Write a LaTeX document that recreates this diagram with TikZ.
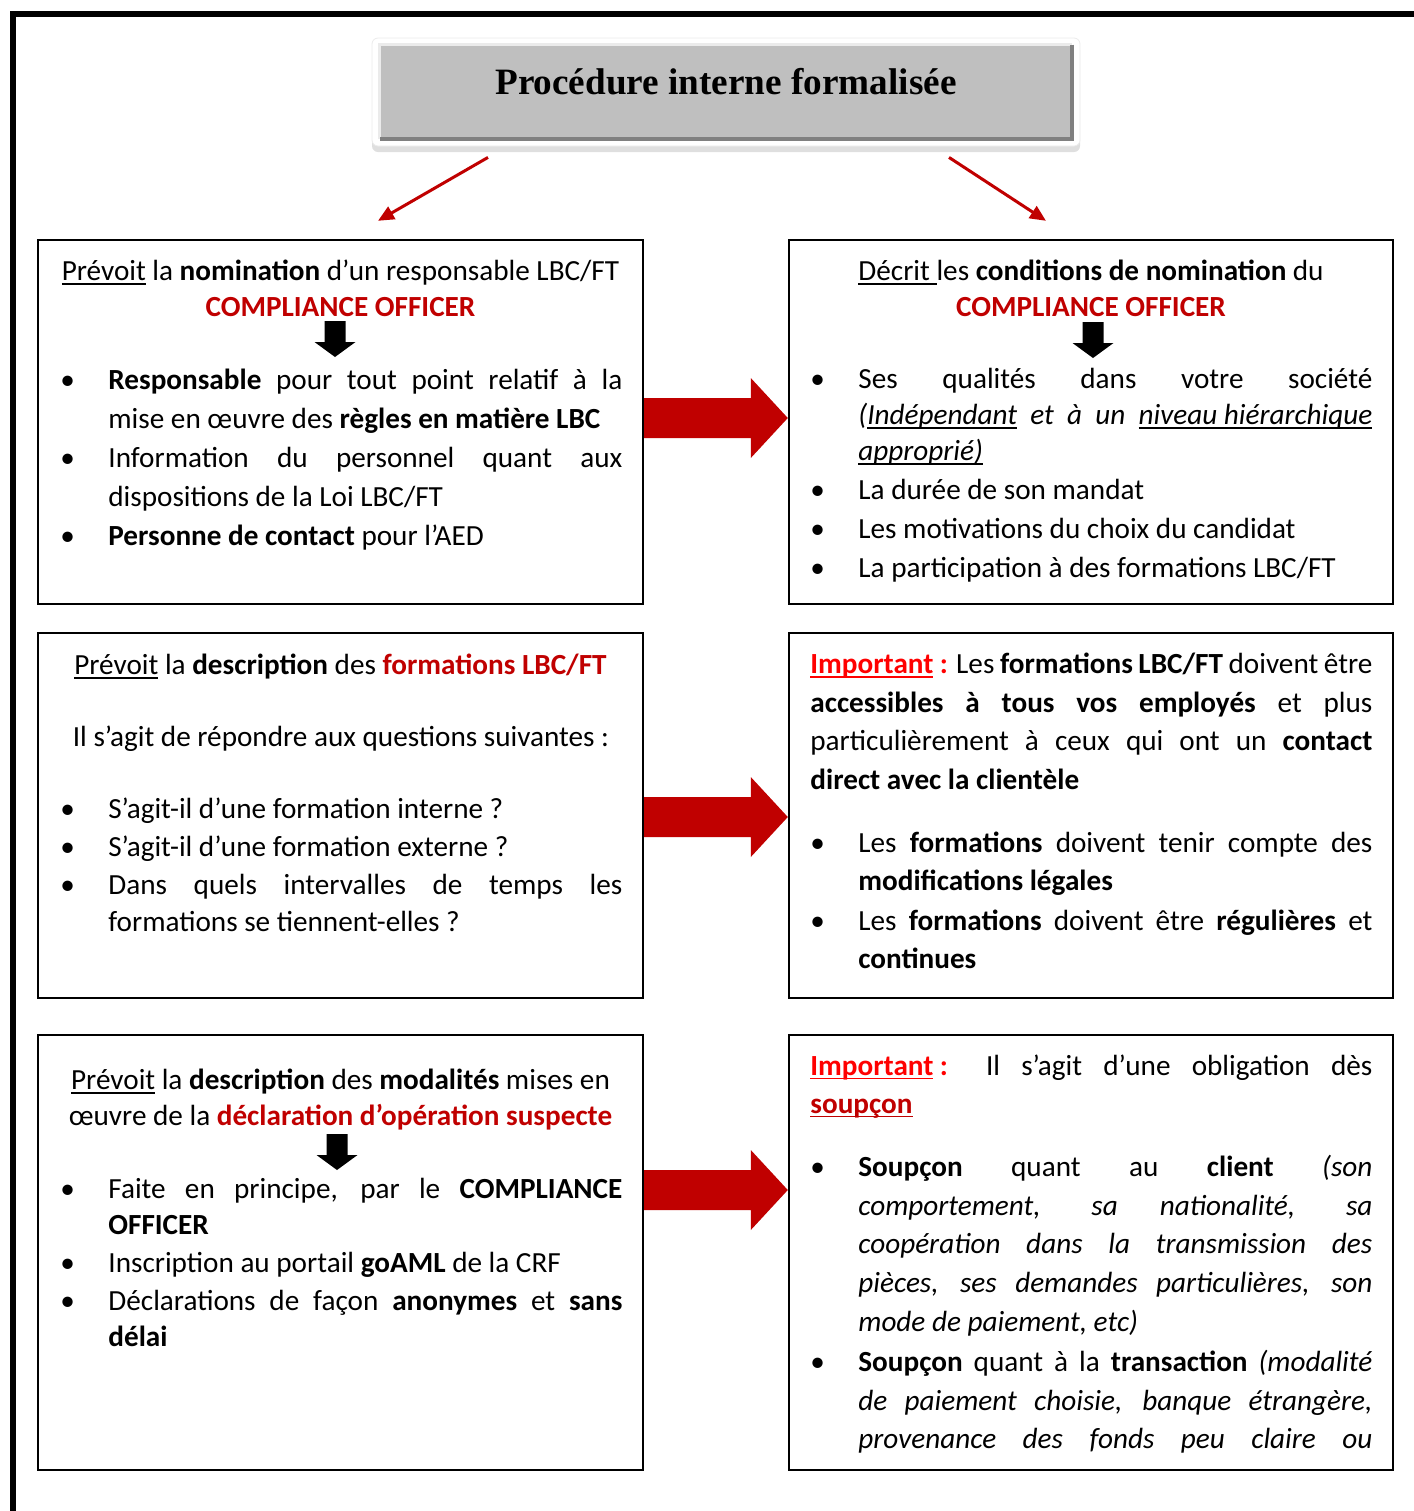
\documentclass[tikz,border=0pt]{standalone}
\usepackage{fontspec}
\setmainfont{Carlito}
\newfontfamily\titrefont{Liberation Serif}
\usepackage{xcolor}
\usetikzlibrary{positioning, calc, fit, shadows, arrows.meta}

\hyphenpenalty=10000
\exhyphenpenalty=10000
\tolerance=10000
\setlength{\parindent}{0pt}

% soulignement a profondeur fixe
\newcommand{\souligne}[1]{\setbox0\hbox{#1}\rlap{\rule[-2.2pt]{\wd0}{0.8pt}}\box0\relax}

% liste a puces
\newenvironment{puces}[1][0pt]{%
  \begin{list}{\textbullet}{%
    \setlength{\leftmargin}{24pt}%
    \setlength{\labelwidth}{24pt}%
    \setlength{\labelsep}{0pt}%
    \setlength{\topsep}{0pt}\setlength{\partopsep}{0pt}%
    \setlength{\parsep}{0pt}\setlength{\itemsep}{#1}%
    \renewcommand{\makelabel}[1]{##1\hfil}}}%
  {\end{list}}

\newcommand{\grossefleche}[3]{
    \fill[rougefonce] ($(#1.east)+(0,#3-20)$) -- ($(#2.west)+(-37,#3-20)$) -- ($(#2.west)+(-37,#3-40)$)
        -- ($(#2.west)+(0,#3)$) -- ($(#2.west)+(-37,#3+40)$) -- ($(#2.west)+(-37,#3+20)$) -- ($(#1.east)+(0,#3+20)$) -- cycle;
}
\newcommand{\flechenoire}[2]{
    \fill (#1-10.5,#2) -- (#1+10.5,#2) -- (#1+10.5,#2+21) -- (#1+20.5,#2+21) -- (#1,#2+36) -- (#1-20.5,#2+21) -- (#1-10.5,#2+21) -- cycle;
}

\tikzset{
    cadre/.style={
        draw, line width=1.2pt, inner sep=0pt
    },
    entete/.style={
        anchor=north, align=justify, text width=281pt, inner sep=0pt, execute at begin node=\centering
    },
    corps/.style={
        anchor=north west, align=justify, text width=281pt, inner sep=0pt
    },
    texte/.style={
        font=\fontsize{14.6pt}{#1}\selectfont
    },
    flecherouge/.style={
        -{Triangle[length=8pt,width=7pt]}, line width=1.5pt, rougefonce
    }
}

\begin{document}
\begin{tikzpicture}[x=0.5pt, y=-0.5pt]
    % --- COULEURS ---
    \definecolor{rougefonce}{RGB}{192, 0, 0}
    \definecolor{rougevif}{RGB}{255, 0, 0}

    \useasboundingbox (0,0) rectangle (1414,1511);
    \draw[line width=3pt] (13,1511) -- (13,14) -- (1414,14);

    % --- TITRE ---
    \node[fit={(372,38) (1080,146)}, inner sep=0pt, fill=white, draw=black!8, rounded corners=3pt,
          drop shadow={opacity=0.25, shadow xshift=0pt, shadow yshift=-3pt}] (cadre) {};
    \node[fit={(380,45) (1072,139)}, inner sep=0pt, fill=black!25] (titre) {};
    \draw[black!8, line width=1.5pt] (titre.south west) -- (titre.north west) -- (titre.north east);
    \draw[black!50, line width=2pt] (titre.north east) -- (titre.south east) -- (titre.south west);
    \node[font=\titrefont\bfseries\fontsize{18.6pt}{22pt}\selectfont] (titretexte) at (726,82) {Procédure interne formalisée};

    % --- CADRES ---
    \node[cadre, fit={(38,240) (643,604)}] (L1) {};
    \node[cadre, fit={(789,240) (1393,604)}] (R1) {};
    \node[cadre, fit={(38,633) (643,998)}] (L2) {};
    \node[cadre, fit={(789,633) (1393,998)}] (R2) {};
    \node[cadre, fit={(38,1035) (643,1470)}] (L3) {};
    \node[cadre, fit={(789,1035) (1393,1470)}] (R3) {};

    % fleches du titre
    \coordinate (dL) at ($(cadre.south)+(-238,11)$);
    \coordinate (dR) at ($(cadre.south)+(223,11)$);
    \draw[flecherouge] (dL) -- ($(L1.north)+(37.5,-18)$);
    \draw[flecherouge] (dR) -- ($(R1.north)+(-45,-18)$);

    % grosses fleches
    \grossefleche{L1}{R1}{-4}
    \grossefleche{L2}{R2}{1.5}
    \grossefleche{L3}{R3}{-62.5}

    % --- LIGNE 1 ---
    \node[entete, texte=18pt] (L1titre) at (340.5,255) {\strut\souligne{Prévoit} la \textbf{nomination} d’un responsable LBC/FT\\
        \textcolor{rougefonce}{\textbf{COMPLIANCE OFFICER}}};
    \flechenoire{335}{321}
    \node[corps, texte=19.5pt] (L1liste) at (60,350) {\begin{puces}
        \item\strut \textbf{Responsable} pour tout point relatif à la\linebreak mise en œuvre des \textbf{règles en matière LBC}
        \item Information du personnel quant aux\linebreak dispositions de la Loi LBC/FT
        \item \textbf{Personne de contact} pour l’AED
    \end{puces}};

    \node[entete, texte=18pt] (R1titre) at (1091,255) {\strut\souligne{Décrit\ }les \textbf{conditions de nomination} du\\
        \textcolor{rougefonce}{\textbf{COMPLIANCE OFFICER}}};
    \flechenoire{1093}{322}
    \node[corps, texte=18pt] (R1liste) at (810,352) {\begin{puces}[1.5pt]
        \item\strut Ses qualités dans votre société\linebreak \textit{(\souligne{Indépendant} et à un \souligne{niveau hiérarchique}}\linebreak \textit{\souligne{approprié)}}
        \item La durée de son mandat
        \item Les motivations du choix du candidat
        \item La participation à des formations LBC/FT
    \end{puces}};

    % --- LIGNE 2 ---
    \node[entete, texte=18pt] (L2titre) at (340.5,649) {\strut\souligne{Prévoit} la \textbf{description} des \textcolor{rougefonce}{\textbf{formations LBC/FT}}};
    \node[entete, texte=18pt] (L2question) at (341,721) {\strut Il s’agit de répondre aux questions suivantes :};
    \node[corps, texte=18.5pt] (L2liste) at (60,781) {\begin{puces}[0.5pt]
        \item\strut S’agit-il d’une formation interne ?
        \item S’agit-il d’une formation externe ?
        \item Dans quels intervalles de temps les\linebreak formations se tiennent-elles ?
    \end{puces}};

    \node[corps, texte=19.3pt] (R2texte) at (810,646) {\strut\textcolor{rougevif}{\textbf{\souligne{Important}\hspace{0.22em}:}} Les \textbf{formations LBC/FT} doivent être\linebreak
        \textbf{accessibles à tous vos employés} et plus\linebreak particulièrement à ceux qui ont un \textbf{contact}\linebreak \textbf{direct avec la clientèle}};
    \node[corps, texte=19pt] (R2liste) at (810,814) {\begin{puces}[1pt]
        \item\strut Les \textbf{formations} doivent tenir compte des\linebreak \textbf{modifications légales}
        \item Les \textbf{formations} doivent être \textbf{régulières} et\linebreak \textbf{continues}
    \end{puces}};

    % --- LIGNE 3 ---
    \node[entete, texte=18pt] (L3titre) at (340.5,1064) {\strut\souligne{Prévoit} la \textbf{description} des \textbf{modalités} mises en\\
        œuvre de la \textcolor{rougefonce}{\textbf{déclaration d’opération suspecte}}};
    \flechenoire{337}{1134}
    \node[corps, texte=18pt] (L3liste) at (60,1162) {\begin{puces}[1pt]
        \item\strut Faite en principe, par le \textbf{COMPLIANCE}\linebreak \textbf{OFFICER}
        \item Inscription au portail \textbf{goAML} de la CRF
        \item Déclarations de façon \textbf{anonymes} et \textbf{sans}\linebreak \textbf{délai}
    \end{puces}};

    \node[corps, texte=19pt] (R3texte) at (810,1048) {\strut\textcolor{rougevif}{\textbf{\souligne{Important}\hspace{0.22em}:}} Il s’agit d’une obligation dès\linebreak
        \textcolor{rougefonce}{\textbf{\souligne{soupçon}}}};
    \node[corps, texte=19.4pt] (R3liste) at (810,1137) {\begin{puces}[0.5pt]
        \item\strut \textbf{Soupçon} quant au \textbf{client} \textit{(son}\linebreak \textit{comportement, sa nationalité, sa}\linebreak
            \textit{coopération dans la transmission des}\linebreak \textit{pièces, ses demandes particulières, son}\linebreak \textit{mode de paiement, etc)}
        \item \textbf{Soupçon} quant à la \textbf{transaction} \textit{(modalité}\linebreak \textit{de paiement choisie, banque étrangère,}\linebreak
            \textit{provenance des fonds peu claire ou}{\parfillskip=0pt\par}
    \end{puces}};
\end{tikzpicture}
\end{document}
